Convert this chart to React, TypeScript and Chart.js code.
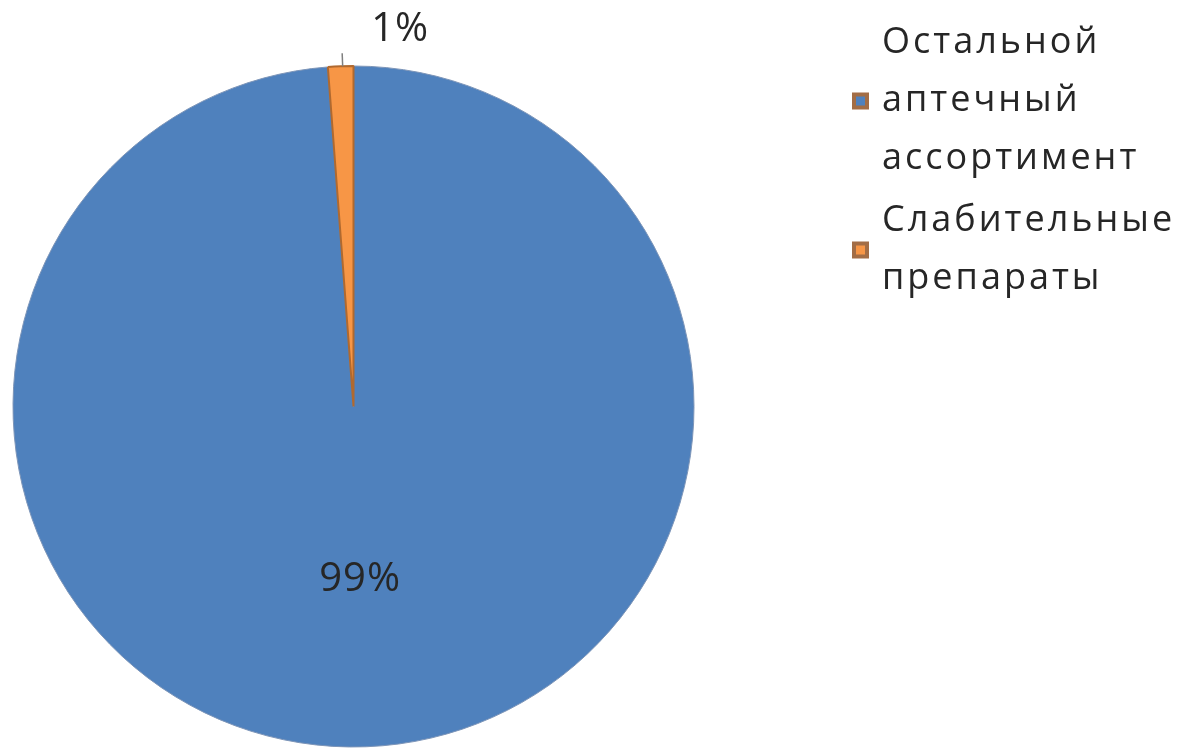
import React, { useEffect, useRef } from "react";
import { Chart, registerables } from "chart.js";

Chart.register(...registerables);

const categories = ["Остальной аптечный ассортимент", "Слабительные препараты"];
const legendLines = [
  ["Остальной", "аптечный", "ассортимент"],
  ["Слабительные", "препараты"],
];
const shares = [98.8, 1.2];
const sliceColors = ["#4f81bd", "#f79646"];
const sliceBorders = ["#7d95b8", "#b0692f"];
const legendBorder = "#a36d45";
const textColor = "#262626";
const FONT = "'Open Sans', 'Noto Sans', sans-serif";

const labelPlugin = {
  id: "customLabels",
  afterDatasetsDraw(chart: any) {
    const ctx = chart.ctx;
    const meta = chart.getDatasetMeta(0);
    const total = shares.reduce((a, b) => a + b, 0);
    ctx.save();
    ctx.fillStyle = textColor;
    ctx.font = `40px ${FONT}`;
    (ctx as any).letterSpacing = "1px";
    meta.data.forEach((arc: any, i: number) => {
      const { x, y, startAngle, endAngle, outerRadius } = arc.getProps(
        ["x", "y", "startAngle", "endAngle", "outerRadius"],
        true
      );
      const mid = (startAngle + endAngle) / 2;
      const pct = Math.round((shares[i] / total) * 100) + "%";
      if (shares[i] / total > 0.1) {
        const r = outerRadius * 0.51;
        ctx.textAlign = "center";
        ctx.textBaseline = "middle";
        ctx.fillText(pct, x + Math.cos(mid) * r, y + Math.sin(mid) * r);
      } else {
        const x0 = x + Math.cos(mid) * outerRadius;
        const y0 = y + Math.sin(mid) * outerRadius;
        const x1 = x + Math.cos(mid) * (outerRadius + 13);
        const y1 = y + Math.sin(mid) * (outerRadius + 13);
        ctx.strokeStyle = "#7f7f7f";
        ctx.lineWidth = 1.5;
        ctx.beginPath();
        ctx.moveTo(x0 + 2, y0);
        ctx.lineTo(x1 + 2, y1);
        ctx.stroke();
        ctx.textAlign = "left";
        ctx.textBaseline = "alphabetic";
        ctx.fillText(pct, x1 + 31, y1 - 12);
      }
    });
    ctx.restore();
  },
  afterDraw(chart: any) {
    const ctx = chart.ctx;
    ctx.save();
    ctx.font = `36px ${FONT}`;
    (ctx as any).letterSpacing = "3px";
    ctx.fillStyle = textColor;
    ctx.textAlign = "left";
    ctx.textBaseline = "alphabetic";
    const textX = 882;
    const boxX = 852;
    const boxSize = 17;
    const lineH = 58;
    let baseline = 53;
    legendLines.forEach((lines, i) => {
      const firstBase = baseline;
      lines.forEach((ln) => {
        ctx.fillText(ln, textX, baseline);
        baseline += lineH;
      });
      const lastBase = baseline - lineH;
      const centerY = (firstBase + lastBase) / 2 - 10;
      ctx.fillStyle = legendBorder;
      ctx.fillRect(boxX, centerY - boxSize / 2, boxSize, boxSize);
      ctx.fillStyle = sliceColors[i];
      ctx.fillRect(boxX + 4, centerY - boxSize / 2 + 4, boxSize - 8, boxSize - 8);
      ctx.fillStyle = textColor;
      baseline += 4;
    });
    ctx.restore();
  },
};

export default function App() {
  const ref = useRef<HTMLCanvasElement | null>(null);
  useEffect(() => {
    document.body.style.margin = "0";
    const chart = new Chart(ref.current as HTMLCanvasElement, {
      type: "pie",
      data: {
        labels: categories,
        datasets: [
          {
            data: shares,
            backgroundColor: sliceColors,
            borderColor: sliceBorders,
            borderWidth: [1, 2],
          },
        ],
      },
      options: {
        animation: false,
        responsive: false,
        layout: { padding: { left: 12, top: 65, right: 487, bottom: 0 } },
        plugins: { legend: { display: false }, tooltip: { enabled: false } },
      },
      plugins: [labelPlugin],
    });
    return () => chart.destroy();
  }, []);
  return (
    <div style={{ width: 1182, height: 748, background: "#fff" }}>
      <canvas ref={ref} width={1182} height={748} style={{ display: "block" }} />
    </div>
  );
}
